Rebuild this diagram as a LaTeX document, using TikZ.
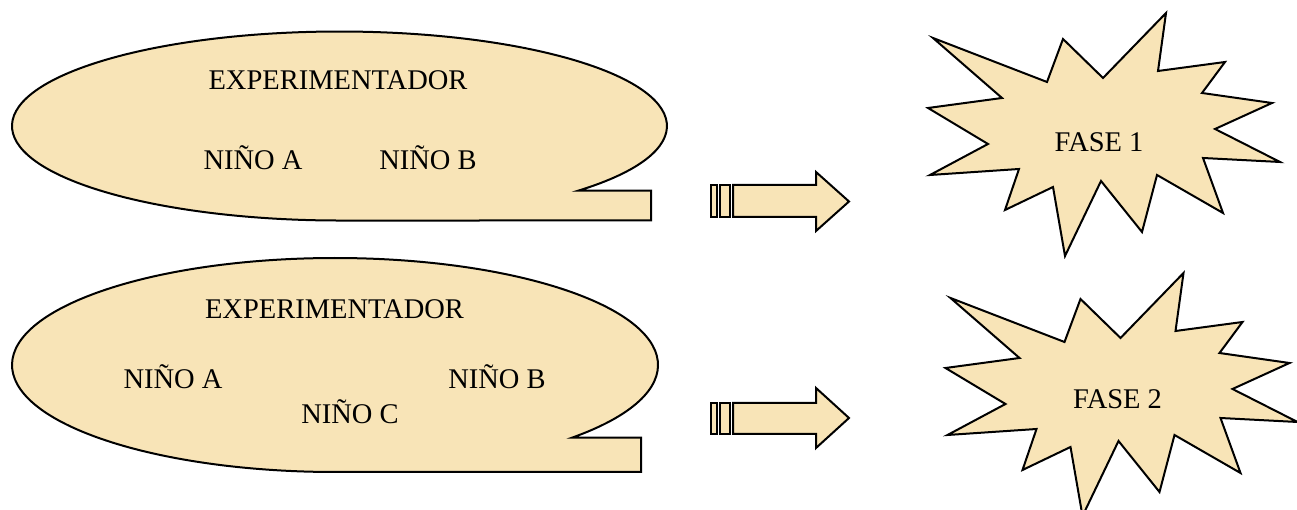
\documentclass[tikz,border=0pt]{standalone}
\usepackage{fontspec}
\setmainfont{Liberation Serif}
\usetikzlibrary{calc}
\definecolor{bubblefill}{RGB}{248,228,183}
\begin{document}
\begin{tikzpicture}[x=1pt,y=1pt,
  shapefill/.style={fill=bubblefill,draw=black,line width=2pt,line join=miter},
  lbl/.style={anchor=base,inner sep=0pt,font=\fontsize{28.5}{30}\selectfont}]
\useasboundingbox (0,0) rectangle (1297,510);
\clip (0,0) rectangle (1297,510);
% speech bubbles
\draw[shapefill] (578.2,319.3) arc[start angle=-43.2,end angle=270,x radius=327.5,y radius=94.5]
  -- (651,289.5) -- (651,319.3) -- cycle;
\draw[shapefill] (572.0,72.3) arc[start angle=-42.8,end angle=270,x radius=323,y radius=107]
  -- (641,38) -- (641,72.3) -- cycle;
% striped arrows
\draw[shapefill] (711,293) rectangle (716.5,325);
\draw[shapefill] (720,293) rectangle (730,325);
\draw[shapefill] (733,293) -- (816,293) -- (816,279) -- (849,308.5) -- (816,338) -- (816,325) -- (733,325) -- cycle;
\draw[shapefill] (711,76) rectangle (716.5,107);
\draw[shapefill] (720,76) rectangle (730,107);
\draw[shapefill] (733,76) -- (816,76) -- (816,62) -- (849,92) -- (816,122) -- (816,107) -- (733,107) -- cycle;
% explosion stars
\def\starpath{(933,472) -- (1047,428) -- (1063,471) -- (1103,432) -- (1166,497) -- (1158,439)
  -- (1225,448) -- (1202,417) -- (1272,407) -- (1215,381) -- (1280,348) -- (1203,352)
  -- (1223,297) -- (1157,335) -- (1142,278) -- (1101,329) -- (1065,254) -- (1053,323)
  -- (1005,300) -- (1019,341) -- (930,335) -- (988,366) -- (928,402) -- (1002,412) -- cycle}
\draw[shapefill] \starpath;
\draw[shapefill,shift={(17.5,-260)}] \starpath;
% texts
\node[lbl] (exp1) at (338,420) {EXPERIMENTADOR};
\node[lbl] (na1) at (253,340) {NIÑO A};
\node[lbl] (nb1) at (428,340) {NIÑO B};
\node[lbl] (exp2) at (334.5,191) {EXPERIMENTADOR};
\node[lbl] (na2) at (173,121) {NIÑO A};
\node[lbl] (nb2) at (497,121) {NIÑO B};
\node[lbl] (nc2) at (350,86) {NIÑO C};
\node[lbl] (f1) at (1099,358) {FASE 1};
\node[lbl] (f2) at (1117.5,101) {FASE 2};
\end{tikzpicture}
\end{document}
